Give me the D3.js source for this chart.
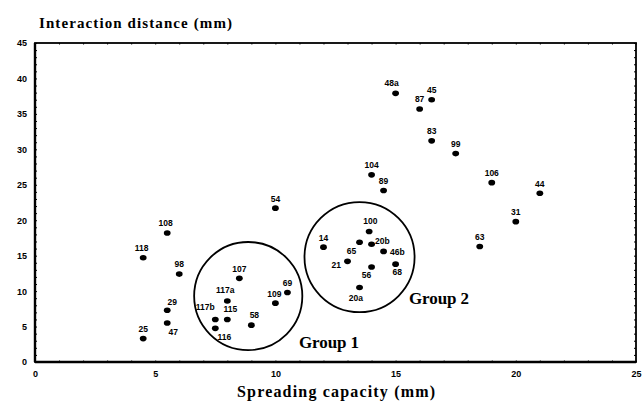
<!DOCTYPE html>
<html>
<head>
<meta charset="utf-8">
<script src="https://cdn.jsdelivr.net/npm/d3@7"></script>
<style>
  html, body { margin: 0; padding: 0; background: #fff; }
</style>
</head>
<body>
<div id="chart"></div>
<script>
// strain ids, spreading capacity (mm), interaction distance (mm)
const ids = ['25', '47', '29', '98', '118', '108', '54',
  '107', '117a', '115', '117b', '116', '58', '109', '69',
  '14', '100', '65', '20b', '46b', '68', '56', '21', '20a',
  '48a', '45', '87', '83', '99', '104', '89', '106', '44', '31', '63'];
const spreading = [4.5, 5.5, 5.5, 6.0, 4.5, 5.5, 10.0,
  8.5, 8.0, 8.0, 7.5, 7.5, 9.0, 10.0, 10.5,
  12.0, 13.9, 13.5, 14.0, 14.5, 15.0, 14.0, 13.0, 13.5,
  15.0, 16.5, 16.0, 16.5, 17.5, 14.0, 14.5, 19.0, 21.0, 20.0, 18.5];
const interaction = [3.3, 5.5, 7.3, 12.4, 14.7, 18.2, 21.7,
  11.8, 8.6, 6.0, 6.0, 4.75, 5.2, 8.3, 9.8,
  16.2, 18.4, 16.9, 16.6, 15.6, 13.8, 13.4, 14.2, 10.5,
  37.9, 37.0, 35.7, 31.2, 29.4, 26.4, 24.2, 25.3, 23.8, 19.8, 16.3];

const xTicks = [0, 5, 10, 15, 20, 25];
const yTicks = [0, 5, 10, 15, 20, 25, 30, 35, 40, 45];

// groups: name, centre x, centre y, radius (in spreading units)
const groupNames = ['Group 1', 'Group 2'];
const groupCx = [8.87, 13.5];
const groupCy = [9.3, 14.8];
const groupR = [2.25, 2.29];

const points = ids.map((id, i) => ({id, x: spreading[i], y: interaction[i]}));

const width = 644, height = 402;
const margin = {top: 43, right: 8, bottom: 40, left: 35};

const svg = d3.select('#chart').append('svg')
  .attr('width', width)
  .attr('height', height);

const x = d3.scaleLinear().domain([0, 25]).range([margin.left, width - margin.right]);
const y = d3.scaleLinear().domain([0, 45]).range([height - margin.bottom, margin.top]);

// little inward ticks all round the frame
const minorX = d3.range(0, 26, 1);
const minorY = d3.range(0, 46, 1);

svg.append('g')
  .attr('transform', `translate(${x(0)},0)`)
  .call(d3.axisRight(y).tickValues(minorY).tickSize(2).tickFormat(''))
  .call(g => g.select('.domain').remove());
svg.append('g')
  .attr('transform', `translate(${x(25)},0)`)
  .call(d3.axisLeft(y).tickValues(minorY).tickSize(2).tickFormat(''))
  .call(g => g.select('.domain').remove());
svg.append('g')
  .attr('transform', `translate(0,${y(0)})`)
  .call(d3.axisTop(x).tickValues(minorX).tickSize(1.5).tickFormat(''))
  .call(g => g.select('.domain').remove());
svg.append('g')
  .attr('transform', `translate(0,${y(45)})`)
  .call(d3.axisBottom(x).tickValues(minorX).tickSize(1.5).tickFormat(''))
  .call(g => g.select('.domain').remove());

// frame
svg.append('rect')
  .attr('x', x(0)).attr('y', y(45))
  .attr('width', x(25) - x(0)).attr('height', y(0) - y(45))
  .attr('fill', 'none').attr('stroke', '#000').attr('stroke-width', 1.8);
svg.append('line')
  .attr('x1', x(0)).attr('x2', x(25)).attr('y1', y(0)).attr('y2', y(0))
  .attr('stroke', '#000').attr('stroke-width', 2.6);
svg.append('line')
  .attr('x1', x(0)).attr('x2', x(0)).attr('y1', y(0)).attr('y2', y(45))
  .attr('stroke', '#000').attr('stroke-width', 2.4);

// tick labels
const xAxis = svg.append('g')
  .attr('transform', `translate(0,${y(0)})`)
  .call(d3.axisBottom(x).tickValues(xTicks).tickSize(0).tickPadding(9).tickFormat(d3.format('d')));
xAxis.select('.domain').remove();
xAxis.selectAll('text')
  .attr('font-family', 'Liberation Sans, Arial, sans-serif')
  .attr('font-weight', 'bold').attr('font-size', 9).attr('fill', '#000');

const yAxis = svg.append('g')
  .attr('transform', `translate(${x(0) - 6},0)`)
  .call(d3.axisLeft(y).tickValues(yTicks).tickSize(0).tickPadding(2).tickFormat(d3.format('d')));
yAxis.select('.domain').remove();
yAxis.selectAll('text')
  .attr('font-family', 'Liberation Sans, Arial, sans-serif')
  .attr('font-weight', 'bold').attr('font-size', 9).attr('fill', '#000');

// axis titles
svg.append('text')
  .attr('x', 39).attr('y', 28)
  .attr('font-family', 'Liberation Serif, Times New Roman, serif')
  .attr('font-weight', 'bold').attr('font-size', 15)
  .attr('textLength', 193).attr('lengthAdjust', 'spacing')
  .text('Interaction distance (mm)');

svg.append('text')
  .attr('x', 237).attr('y', 397)
  .attr('font-family', 'Liberation Serif, Times New Roman, serif')
  .attr('font-weight', 'bold').attr('font-size', 16)
  .attr('textLength', 198).attr('lengthAdjust', 'spacing')
  .text('Spreading capacity (mm)');

// group circles
const groups = groupNames.map((name, i) => ({name, cx: groupCx[i], cy: groupCy[i], r: groupR[i]}));
svg.append('g').selectAll('circle')
  .data(groups)
  .join('circle')
    .attr('cx', d => x(d.cx))
    .attr('cy', d => y(d.cy))
    .attr('r', d => x(d.r) - x(0))
    .attr('fill', 'none')
    .attr('stroke', '#000')
    .attr('stroke-width', 1.8);

// group labels (placed beside each circle)
const groupLabelPos = {'Group 1': [299, 348], 'Group 2': [409, 304]};
svg.append('g').selectAll('text')
  .data(groups)
  .join('text')
    .attr('x', d => groupLabelPos[d.name][0])
    .attr('y', d => groupLabelPos[d.name][1])
    .attr('font-family', 'Liberation Serif, Times New Roman, serif')
    .attr('font-size', 17)
    .attr('font-weight', 'bold')
    .attr('textLength', 60).attr('lengthAdjust', 'spacing')
    .text(d => d.name);

// dots
svg.append('g').selectAll('ellipse')
  .data(points)
  .join('ellipse')
    .attr('cx', d => x(d.x))
    .attr('cy', d => y(d.y))
    .attr('rx', 3.4)
    .attr('ry', 2.8)
    .attr('fill', '#000');

// point labels: offset of the label centre from the dot, px
const labelShift = {
  '47': [6, 8.7], '29': [5, -8.3], '116': [9, 8.7], '117b': [-10, -12.6],
  '115': [3, -10], '117a': [-2, -10.6], '58': [3, -10], '109': [-1, -9],
  '65': [-8, 9], '20b': [10.7, -3.3], '46b': [13.7, 0.6], '68': [1.7, 8],
  '56': [-5, 8], '21': [-11.3, 4], '20a': [-3.6, 10.4], '48a': [-4, -10],
  '100': [1.3, -11], '118': [-1.6, -9.4], '108': [-1.6, -10]
};
svg.append('g').selectAll('text')
  .data(points)
  .join('text')
    .attr('x', d => x(d.x) + (labelShift[d.id] ? labelShift[d.id][0] : 0))
    .attr('y', d => y(d.y) + (labelShift[d.id] ? labelShift[d.id][1] : -9.6) + 3)
    .attr('text-anchor', 'middle')
    .attr('font-family', 'Liberation Sans Narrow, Arial Narrow, Liberation Sans, sans-serif')
    .attr('font-weight', 'bold')
    .attr('font-size', 8.5)
    .text(d => d.id);
</script>
</body>
</html>
